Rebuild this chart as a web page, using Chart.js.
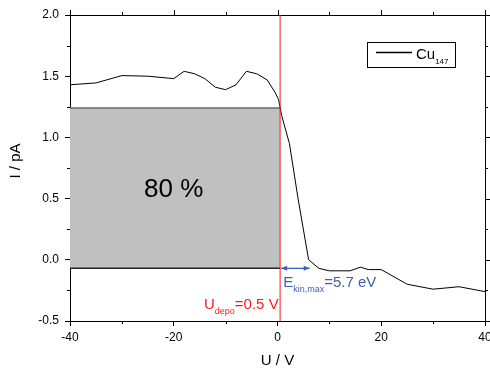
<!DOCTYPE html>
<html>
<head>
<meta charset="utf-8">
<script src="https://cdn.jsdelivr.net/npm/chart.js@4/dist/chart.umd.min.js"></script>
<style>
html, body { margin: 0; padding: 0; background: #fff; overflow: hidden; }
</style>
</head>
<body>
<canvas id="chart" width="500" height="368"></canvas>
<script>
// --- data ---
const voltage = [-40, -35, -30, -25, -20, -18, -16, -14, -12, -10, -8, -6, -4, -2, -0.5, 0.2, 0.8, 2.3, 4, 6, 8, 10, 14, 16, 17.5, 20, 25, 30, 35, 40];
const current = [1.43, 1.445, 1.505, 1.50, 1.48, 1.54, 1.52, 1.48, 1.41, 1.39, 1.43, 1.54, 1.52, 1.47, 1.37, 1.31, 1.18, 0.95, 0.49, 0.0, -0.07, -0.09, -0.09, -0.06, -0.08, -0.08, -0.20, -0.24, -0.22, -0.26];

const xMinorTicks = [-30, -10, 10, 30];
const yMinorTicks = [-0.25, 0.25, 0.75, 1.25, 1.75];

// shaded region (80 %) and markers
const shadeX = [-40, 0.5];
const shadeY = [-0.07, 1.24];
const shadeLabel = '80 %';
const depoVoltage = 0.5;
const ekinMax = 5.7;
const seriesName = 'Cu';
const seriesSub = '147';

const FONT = "'Liberation Sans', Arial, sans-serif";
const BLUE = '#3f5fae';
const RED = '#ff1a1a';

// draws text pieces one after another (for subscripts)
function drawParts(ctx, parts, x, y) {
    let cx = x;
    parts.forEach(p => {
        ctx.font = p.size + 'px ' + FONT;
        ctx.fillText(p.text, cx, y + (p.dy || 0));
        cx += ctx.measureText(p.text).width;
    });
}

const annotate = {
    id: 'annotate',
    beforeDatasetsDraw(chart) {
        const { ctx, scales: { x, y } } = chart;
        const l = x.getPixelForValue(shadeX[0]), r = x.getPixelForValue(shadeX[1]);
        const t = y.getPixelForValue(shadeY[1]), b = y.getPixelForValue(shadeY[0]);
        ctx.save();
        ctx.fillStyle = '#c0c0c0';
        ctx.fillRect(l, t, r - l, b - t);
        ctx.lineWidth = 1.5;
        ctx.strokeStyle = '#6a6a6a';
        ctx.beginPath(); ctx.moveTo(l, t); ctx.lineTo(r, t); ctx.stroke();
        ctx.strokeStyle = '#222';
        ctx.beginPath(); ctx.moveTo(l, b); ctx.lineTo(r, b); ctx.stroke();
        ctx.restore();
    },
    afterDraw(chart) {
        const { ctx, chartArea: ca, scales: { x, y } } = chart;
        ctx.save();

        // frame: top and right axes
        ctx.strokeStyle = '#000';
        ctx.lineWidth = 1;
        ctx.beginPath();
        ctx.moveTo(ca.left, ca.top + 0.5); ctx.lineTo(ca.right, ca.top + 0.5);
        ctx.moveTo(ca.right + 0.5, ca.top); ctx.lineTo(ca.right + 0.5, ca.bottom);
        ctx.stroke();

        // ticks on top / right, minor ticks on bottom / left
        ctx.beginPath();
        x.ticks.forEach(t => {
            const px = Math.round(x.getPixelForValue(t.value)) + 0.5;
            ctx.moveTo(px, ca.top); ctx.lineTo(px, ca.top - 5);
        });
        xMinorTicks.forEach(v => {
            const px = Math.round(x.getPixelForValue(v)) + 0.5;
            ctx.moveTo(px, ca.top); ctx.lineTo(px, ca.top - 3);
            ctx.moveTo(px, ca.bottom); ctx.lineTo(px, ca.bottom + 3);
        });
        y.ticks.forEach(t => {
            const py = Math.round(y.getPixelForValue(t.value)) + 0.5;
            ctx.moveTo(ca.right, py); ctx.lineTo(ca.right + 5, py);
        });
        yMinorTicks.forEach(v => {
            const py = Math.round(y.getPixelForValue(v)) + 0.5;
            ctx.moveTo(ca.right, py); ctx.lineTo(ca.right + 3, py);
            ctx.moveTo(ca.left, py); ctx.lineTo(ca.left - 3, py);
        });
        ctx.stroke();

        // U_depo line
        const xd = x.getPixelForValue(depoVoltage);
        ctx.strokeStyle = RED;
        ctx.beginPath(); ctx.moveTo(xd, ca.top); ctx.lineTo(xd, ca.bottom); ctx.stroke();

        // E_kin,max arrow
        const xa = x.getPixelForValue(depoVoltage + ekinMax);
        const ya = y.getPixelForValue(shadeY[0]);
        ctx.strokeStyle = BLUE;
        ctx.fillStyle = BLUE;
        ctx.lineWidth = 1.3;
        ctx.beginPath(); ctx.moveTo(xd + 1, ya); ctx.lineTo(xa, ya); ctx.stroke();
        [[xd + 1, 1], [xa, -1]].forEach(([px, dir]) => {
            ctx.beginPath();
            ctx.moveTo(px, ya);
            ctx.lineTo(px + dir * 6, ya - 2.5);
            ctx.lineTo(px + dir * 6, ya + 2.5);
            ctx.closePath();
            ctx.fill();
        });

        ctx.textBaseline = 'alphabetic';
        ctx.textAlign = 'left';
        drawParts(ctx, [
            { text: 'E', size: 15 },
            { text: 'kin,max', size: 9, dy: 5 },
            { text: '=' + ekinMax + ' eV', size: 15 }
        ], x.getPixelForValue(1.1), y.getPixelForValue(-0.225));

        ctx.fillStyle = RED;
        drawParts(ctx, [
            { text: 'U', size: 15 },
            { text: 'depo', size: 9, dy: 5 },
            { text: '=' + depoVoltage + ' V', size: 15 }
        ], 204, y.getPixelForValue(-0.4));

        // shaded label
        ctx.fillStyle = '#000';
        ctx.font = '26px ' + FONT;
        ctx.textAlign = 'center';
        ctx.textBaseline = 'middle';
        ctx.fillText(shadeLabel, x.getPixelForValue(-20), y.getPixelForValue(0.57));

        // legend
        const bx = ca.right - 118, by = ca.top + 27;
        ctx.strokeStyle = '#000';
        ctx.lineWidth = 1;
        ctx.strokeRect(bx + 0.5, by + 0.5, 88, 25);
        ctx.lineWidth = 1.3;
        ctx.beginPath(); ctx.moveTo(bx + 9, by + 10.5); ctx.lineTo(bx + 45, by + 10.5); ctx.stroke();
        ctx.textAlign = 'left';
        ctx.textBaseline = 'alphabetic';
        drawParts(ctx, [
            { text: seriesName, size: 15 },
            { text: seriesSub, size: 8, dy: 5 }
        ], bx + 49, by + 16.5);

        // axis titles
        ctx.font = '15px ' + FONT;
        ctx.textAlign = 'center';
        ctx.textBaseline = 'middle';
        ctx.fillText('U / V', (ca.left + ca.right) / 2, 361);
        ctx.translate(16, 161);
        ctx.rotate(-Math.PI / 2);
        ctx.fillText('I / pA', 0, 0);
        ctx.restore();
    }
};

new Chart(document.getElementById('chart'), {
    type: 'line',
    data: {
        datasets: [{
            label: seriesName + seriesSub,
            data: voltage.map((v, i) => ({ x: v, y: current[i] })),
            borderColor: '#000',
            borderWidth: 1,
            pointRadius: 0,
            tension: 0,
            fill: false
        }]
    },
    options: {
        responsive: false,
        animation: false,
        layout: { padding: { top: 15, right: 15, left: 0, bottom: 0 } },
        plugins: { legend: { display: false }, tooltip: { enabled: false } },
        scales: {
            x: {
                type: 'linear',
                min: -40, max: 40,
                ticks: { stepSize: 20, color: '#000', font: { family: FONT, size: 12 }, padding: 4, maxRotation: 0, autoSkip: false },
                grid: { drawOnChartArea: false, drawTicks: true, tickLength: 5, color: '#000' },
                border: { color: '#000', width: 1 },
                afterFit: s => { s.height = 47; }
            },
            y: {
                min: -0.5, max: 2.0,
                ticks: { stepSize: 0.5, color: '#000', font: { family: FONT, size: 12 }, padding: 6, callback: v => v.toFixed(1) },
                grid: { drawOnChartArea: false, drawTicks: true, tickLength: 5, color: '#000' },
                border: { color: '#000', width: 1 },
                afterFit: s => { s.width = 70; }
            }
        }
    },
    plugins: [annotate]
});
</script>
</body>
</html>
